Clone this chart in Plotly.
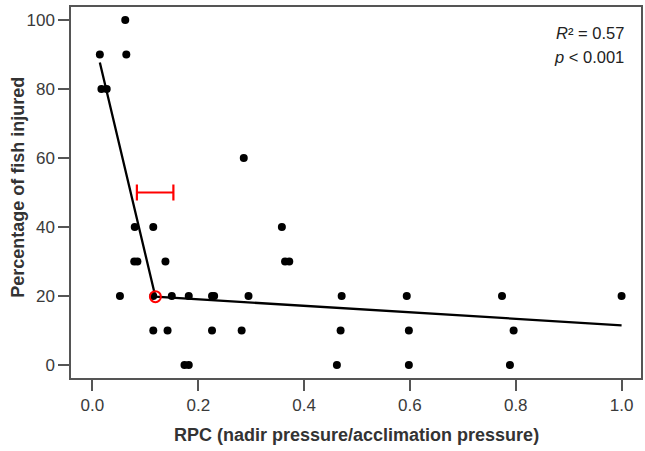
import plotly.graph_objects as go

# Observed data: RPC vs percentage of fish injured
rpc = [0.014, 0.064, 0.062, 0.017, 0.027,
       0.080, 0.115,
       0.079, 0.085, 0.138,
       0.052, 0.115, 0.150, 0.182, 0.226, 0.230,
       0.115, 0.142, 0.226,
       0.174, 0.182,
       0.286, 0.358, 0.364, 0.372,
       0.295, 0.471, 0.282, 0.469, 0.462,
       0.594, 0.774, 1.0, 0.598, 0.796, 0.598, 0.789]
injured = [90, 90, 100, 80, 80,
           40, 40,
           30, 30, 30,
           20, 20, 20, 20, 20, 20,
           10, 10, 10,
           0, 0,
           60, 40, 30, 30,
           20, 20, 10, 10, 0,
           20, 20, 20, 10, 10, 0, 0]

# Segmented regression fit
fit_x = [0.014, 0.119, 1.0]
fit_y = [87.7, 19.8, 11.5]

# Breakpoint and its confidence interval
bp_x = [0.119]
bp_y = [19.8]
ci_low = 0.084
ci_high = 0.153
ci_y = 50

x_ticks = [0.0, 0.2, 0.4, 0.6, 0.8, 1.0]
x_tick_text = ["0.0", "0.2", "0.4", "0.6", "0.8", "1.0"]
y_ticks = [0, 20, 40, 60, 80, 100]

stats_lines = ["<i>R</i>² = 0.57", "<i>p</i> &lt; 0.001"]

ci_mid = (ci_low + ci_high) / 2

fig = go.Figure()
fig.add_trace(go.Scatter(x=rpc, y=injured, mode="markers",
                         marker=dict(color="black", size=8), showlegend=False,
                         cliponaxis=False))
fig.add_trace(go.Scatter(x=fit_x, y=fit_y, mode="lines",
                         line=dict(color="black", width=2.3), showlegend=False))
fig.add_trace(go.Scatter(x=bp_x, y=bp_y, mode="markers",
                         marker=dict(symbol="circle-open", color="red", size=11,
                                     line=dict(width=2, color="red")),
                         showlegend=False))
fig.add_trace(go.Scatter(x=[ci_mid], y=[ci_y], mode="markers",
                         marker=dict(size=1, color="rgba(0,0,0,0)"),
                         error_x=dict(type="data", symmetric=False,
                                      array=[ci_high - ci_mid],
                                      arrayminus=[ci_mid - ci_low],
                                      color="red", thickness=2.2, width=8),
                         showlegend=False))

axis_common = dict(showline=True, linecolor="#555555", linewidth=1.5, mirror=True,
                   ticks="outside", ticklen=11, tickwidth=1.5, tickcolor="#555555",
                   showgrid=False, zeroline=False,
                   tickfont=dict(family="Liberation Sans, Arial, sans-serif",
                                 size=17, color="#3a3a3a"))

fig.update_xaxes(range=[-0.0405, 1.0367], tickvals=x_ticks, ticktext=x_tick_text,
                 **axis_common)
fig.update_yaxes(range=[-3.77, 103.77], tickvals=y_ticks, **axis_common)

title_font = dict(family="Liberation Sans, Arial, sans-serif", size=18, color="#333333")
fig.add_annotation(text="<b>RPC (nadir pressure/acclimation pressure)</b>",
                   xref="paper", yref="paper", x=0.5, y=-57 / 371,
                   xanchor="center", yanchor="middle", showarrow=False, font=title_font)
fig.add_annotation(text="<b>Percentage of fish injured</b>",
                   xref="paper", yref="paper", x=(17 - 71) / 572, y=0.5 + 5 / 371,
                   xanchor="center", yanchor="middle", textangle=-90,
                   showarrow=False, font=title_font)
for txt, ypx in zip(stats_lines, [33.5, 56.5]):
    fig.add_annotation(text=txt, xref="paper", yref="paper",
                       x=(628 - 71) / 572, y=(378 - ypx) / 371,
                       xanchor="right", yanchor="middle", showarrow=False,
                       font=dict(family="Liberation Sans, Arial, sans-serif", size=16.5,
                                 color="#222222"))

fig.update_layout(width=645, height=451,
                  margin=dict(l=71, r=2, t=7, b=73),
                  plot_bgcolor="white", paper_bgcolor="white")

fig.write_html("out.html", config={"displayModeBar": False},
               post_script="document.body.style.margin='0';document.body.style.overflow='hidden';")
